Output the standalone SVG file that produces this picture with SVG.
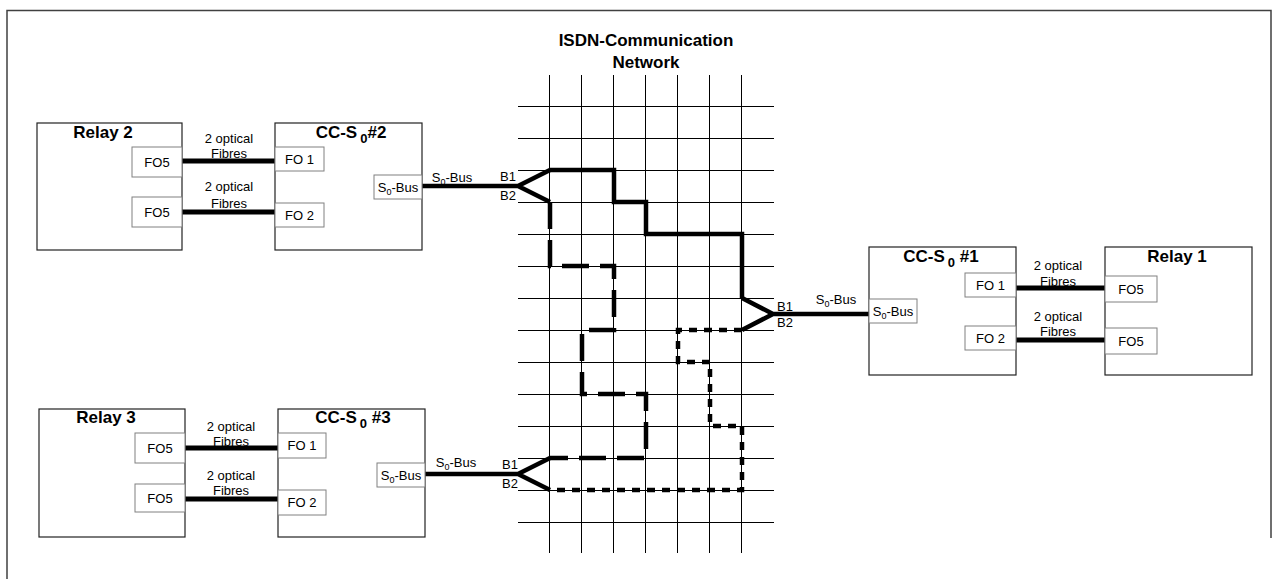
<svg xmlns="http://www.w3.org/2000/svg" width="1279" height="579" viewBox="0 0 1279 579">
<style>
.frame{fill:none;stroke:#404040;stroke-width:1.5}
.big{fill:#fff;stroke:#222;stroke-width:1.2}
.small{fill:#fff;stroke:#808080;stroke-width:1}
.grid{stroke:#000;stroke-width:1;fill:none}
.route{fill:none;stroke:#000;stroke-width:4.5;stroke-linejoin:miter;stroke-linecap:butt}
.fibre{stroke:#000;stroke-width:5}
.ld{stroke-dasharray:27 11}
.sd{stroke-dasharray:8 7}
.t{font-family:"Liberation Sans",Arial,sans-serif;font-size:13px;fill:#000}
.title{font-family:"Liberation Sans",Arial,sans-serif;font-size:17px;font-weight:bold;fill:#000;text-anchor:middle}
.c{text-anchor:middle}
.sub{font-size:9px}
</style>
<path class="frame" d="M7,579 V10.5 H1271 V538"/>
<g id="network">
<text class="title" x="646" y="46">ISDN-Communication</text>
<text class="title" x="646" y="68">Network</text>
<g class="grid">
<path d="M549.5,75V553M581.5,75V553M613.5,75V553M645.5,75V553M677.5,75V553M709.5,75V553M741.5,75V553"/>
<path d="M518,106.5H774M518,138.5H774M518,170.5H774M518,202.5H774M518,234.5H774M518,266.5H774M518,298.5H774M518,330.5H774M518,362.5H774M518,394.5H774M518,426.5H774M518,458.5H774M518,490.5H774M518,522.5H774"/>
</g>
</g>
<g id="connectors">
<line class="fibre" x1="182" y1="161" x2="275" y2="161"/>
<line class="fibre" x1="182" y1="212" x2="275" y2="212"/>
<line class="fibre" x1="185" y1="448" x2="278" y2="448"/>
<line class="fibre" x1="185" y1="499" x2="278" y2="499"/>
<line class="fibre" x1="1016" y1="288" x2="1105" y2="288"/>
<line class="fibre" x1="1016" y1="340" x2="1105" y2="340"/>
<path class="route" d="M422,186 H518 L550,170 M518,186 L550,202"/>
<path class="route" d="M425,474 H518 L550,458 M518,474 L550,490"/>
<path class="route" d="M869,314 H773 L742,298 M773,314 L742,330"/>
<path class="route" d="M550,170 H614 V202 H646 V234 H742 V298"/>
<path class="route ld" d="M550,202 V266 H614 V330 H582 V394 H646 V458 H550"/>
<path class="route sd" d="M742,330 H678 V362 H710 V426 H742 V490 H550"/>
<text class="t c" x="452" y="182">S<tspan class="sub" dy="3">0</tspan><tspan dy="-3">-Bus</tspan></text>
<text class="t" x="500" y="181">B1</text>
<text class="t" x="500" y="200">B2</text>
<text class="t c" x="456" y="467">S<tspan class="sub" dy="3">0</tspan><tspan dy="-3">-Bus</tspan></text>
<text class="t" x="502" y="469">B1</text>
<text class="t" x="502" y="488">B2</text>
<text class="t c" x="836" y="304">S<tspan class="sub" dy="3">0</tspan><tspan dy="-3">-Bus</tspan></text>
<text class="t" x="777" y="311">B1</text>
<text class="t" x="777" y="327">B2</text>
<text class="t c" x="229" y="142.5">2 optical</text>
<text class="t c" x="229" y="158">Fibres</text>
<text class="t c" x="229" y="191">2 optical</text>
<text class="t c" x="229" y="207.5">Fibres</text>
<text class="t c" x="231" y="431">2 optical</text>
<text class="t c" x="231" y="446">Fibres</text>
<text class="t c" x="231" y="479.5">2 optical</text>
<text class="t c" x="231" y="494.5">Fibres</text>
<text class="t c" x="1058" y="269.5">2 optical</text>
<text class="t c" x="1058" y="286">Fibres</text>
<text class="t c" x="1058" y="320.5">2 optical</text>
<text class="t c" x="1058" y="335.5">Fibres</text>
</g>
<g id="relay2">
<rect class="big" x="37" y="123" width="145" height="127"/>
<text class="title" x="103" y="138">Relay 2</text>
<rect class="small" x="132" y="147" width="50" height="30"/>
<text class="t c" x="157" y="167">FO5</text>
<rect class="small" x="132" y="197" width="50" height="30"/>
<text class="t c" x="157" y="217">FO5</text>
</g>
<g id="cc2">
<rect class="big" x="275" y="123" width="147" height="127"/>
<text class="title" x="351" y="138">CC-S<tspan dx="3" dy="5" font-size="13">0</tspan><tspan dy="-5">#2</tspan></text>
<rect class="small" x="275" y="147" width="49" height="24"/>
<text class="t c" x="299.5" y="164">FO 1</text>
<rect class="small" x="275" y="203" width="49" height="24"/>
<text class="t c" x="299.5" y="220">FO 2</text>
<rect class="small" x="374" y="175" width="48" height="24"/>
<text class="t c" x="398" y="192">S<tspan class="sub" dy="3">0</tspan><tspan dy="-3">-Bus</tspan></text>
</g>
<g id="relay3">
<rect class="big" x="39" y="409" width="146" height="128"/>
<text class="title" x="106" y="423">Relay 3</text>
<rect class="small" x="135" y="433" width="50" height="30"/>
<text class="t c" x="160" y="453">FO5</text>
<rect class="small" x="135" y="484" width="50" height="28"/>
<text class="t c" x="160" y="503">FO5</text>
</g>
<g id="cc3">
<rect class="big" x="278" y="409" width="147" height="128"/>
<text class="title" x="353" y="423">CC-S<tspan dx="3" dy="5" font-size="13">0</tspan><tspan dy="-5"> #3</tspan></text>
<rect class="small" x="278" y="433" width="48" height="25"/>
<text class="t c" x="302" y="450">FO 1</text>
<rect class="small" x="278" y="490" width="48" height="25"/>
<text class="t c" x="302" y="507">FO 2</text>
<rect class="small" x="377" y="463" width="48" height="24"/>
<text class="t c" x="401" y="480">S<tspan class="sub" dy="3">0</tspan><tspan dy="-3">-Bus</tspan></text>
</g>
<g id="cc1">
<rect class="big" x="869" y="247" width="147" height="128"/>
<text class="title" x="941" y="262">CC-S<tspan dx="3" dy="5" font-size="13">0</tspan><tspan dy="-5"> #1</tspan></text>
<rect class="small" x="965" y="273" width="51" height="24"/>
<text class="t c" x="990.5" y="290">FO 1</text>
<rect class="small" x="965" y="326" width="51" height="24"/>
<text class="t c" x="990.5" y="343">FO 2</text>
<rect class="small" x="869" y="299" width="48" height="24"/>
<text class="t c" x="893" y="316">S<tspan class="sub" dy="3">0</tspan><tspan dy="-3">-Bus</tspan></text>
</g>
<g id="relay1">
<rect class="big" x="1105" y="247" width="147" height="128"/>
<text class="title" x="1177" y="262">Relay 1</text>
<rect class="small" x="1105" y="276" width="52" height="26"/>
<text class="t c" x="1131" y="294">FO5</text>
<rect class="small" x="1105" y="328" width="52" height="26"/>
<text class="t c" x="1131" y="346">FO5</text>
</g>
</svg>
